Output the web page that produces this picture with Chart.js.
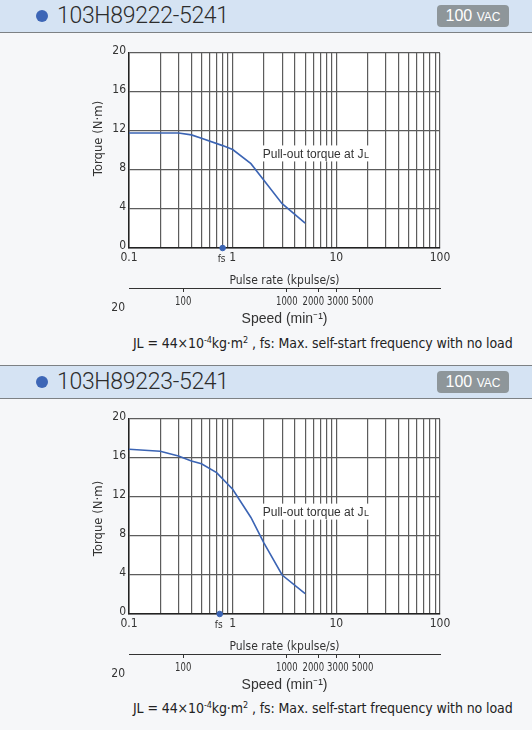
<!DOCTYPE html>
<html>
<head>
<meta charset="utf-8">
<script src="https://cdn.jsdelivr.net/npm/chart.js@4.4.1/dist/chart.umd.min.js"></script>
<style>
  html, body { margin: 0; padding: 0; }
  body {
    width: 532px; height: 730px; position: relative; overflow: hidden;
    background: #f6f7f9; color: #333;
    font-family: 'Liberation Sans', Arial, sans-serif;
  }
  .head { position: absolute; left: 0; width: 532px; height: 32px; background: #d5e3f3; border-bottom: 1px solid #7d8184; }
  .head.second { border-top: 1px solid #7d8184; }
  .dot { position: absolute; left: 36px; top: 10px; width: 12px; height: 12px; border-radius: 50%; background: #3d66b6; }
  .name { position: absolute; left: 57px; top: 2px; font-family: Roboto, 'Liberation Sans', sans-serif; font-weight: 300; font-size: 23px; line-height: 28px; letter-spacing: -0.3px; color: #2c2c2c; }
  .badge { position: absolute; left: 437px; top: 5px; width: 72px; height: 22px; border-radius: 4px; background: #8e969a; color: #fff; text-align: center; line-height: 22px; font-size: 16px; }
  .badge span { font-size: 12px; }
  .plot { position: absolute; left: 0; width: 532px; height: 300px; }
  .note { position: absolute; left: 133px; white-space: nowrap; font-family: 'DejaVu Sans Condensed', sans-serif; font-size: 14px; letter-spacing: -0.1px; color: #222; }
  .note sup { font-size: 9px; vertical-align: 5px; line-height: 0; }
</style>
</head>
<body>

<div class="head" style="top:0"><div class="dot"></div><div class="name">103H89222-5241</div><div class="badge">100 <span>VAC</span></div></div>
<div class="plot" style="top:33px"><canvas id="c1"></canvas></div>
<div class="note" style="top:335px">JL = 44×10<sup>-4</sup>kg·m<sup>2</sup> , fs: Max. self-start frequency with no load</div>

<div class="head second" style="top:365px"><div class="dot"></div><div class="name">103H89223-5241</div><div class="badge">100 <span>VAC</span></div></div>
<div class="plot" style="top:399px"><canvas id="c2"></canvas></div>
<div class="note" style="top:700px">JL = 44×10<sup>-4</sup>kg·m<sup>2</sup> , fs: Max. self-start frequency with no load</div>

<script>
// Pulse rate (kpulse/s) vs. pull-out torque (N·m)
const rate1   = [0.1, 0.3, 0.4, 0.5, 0.8, 1, 1.5, 2, 3, 5];
const torque1 = [11.8, 11.8, 11.6, 11.25, 10.5, 10.1, 8.65, 6.95, 4.55, 2.55];
const fs1 = 0.8;

const rate2   = [0.1, 0.2, 0.3, 0.4, 0.5, 0.7, 1, 1.5, 2, 3, 5];
const torque2 = [16.9, 16.7, 16.2, 15.7, 15.4, 14.5, 12.8, 9.9, 7.3, 4.0, 2.1];
const fs2 = 0.75;

// Axis ticks
const pulseGrid = [0.1, 0.2, 0.3, 0.4, 0.5, 0.6, 0.7, 0.8, 0.9,
                   1, 2, 3, 4, 5, 6, 7, 8, 9,
                   10, 20, 30, 40, 50, 60, 70, 80, 90, 100];
const pulseLabels = [0.1, 1, 10, 100];
const torqueTicks = [0, 4, 8, 12, 16, 20];
const speedTicks = [100, 1000, 2000, 3000, 5000];
const speedStartLabel = '20';

// 1.8° step motor: 200 pulses per revolution -> min⁻¹ = kpulse/s × 300
const RPM_PER_KPPS = 300;

const NARROW = "'DejaVu Sans Condensed', sans-serif";
const REGULAR = "'Liberation Sans', Arial, sans-serif";
const INK = '#333';
const GRID = '#5c5c5c';
const BLUE = '#3b64b4';

// Spread crowded labels apart so neighbours keep a small gap
function spreadLabels(centers, widths, gap) {
  const c = centers.slice();
  for (let it = 0; it < 30; it++) {
    for (let i = 0; i < c.length - 1; i++) {
      const need = (widths[i] + widths[i + 1]) / 2 + gap;
      const d = c[i + 1] - c[i];
      if (d < need) {
        const push = (need - d) / 2;
        c[i] -= push;
        c[i + 1] += push;
      }
    }
  }
  return c;
}

const decor = {
  id: 'decor',
  beforeDraw(chart) {
    const { ctx, chartArea: a } = chart;
    ctx.save();
    ctx.fillStyle = '#fff';
    ctx.fillRect(a.left, a.top, a.right - a.left, a.bottom - a.top);
    ctx.restore();
  },
  afterDraw(chart, args, o) {
    const { ctx, chartArea: a, scales: { x, y, x2 } } = chart;
    ctx.save();
    ctx.fillStyle = INK;

    // curve caption with a white backing over the grid
    const lx = x.getPixelForValue(o.captionAt[0]);
    const ly = y.getPixelForValue(o.captionAt[1]);
    ctx.font = '12px ' + REGULAR;
    const main = 'Pull-out torque at J';
    const w1 = ctx.measureText(main).width;
    ctx.font = '9px ' + REGULAR;
    const w2 = ctx.measureText('L').width;
    ctx.fillStyle = '#fff';
    ctx.fillRect(lx - 3, ly - 8, w1 + w2 + 6, 16);
    ctx.fillStyle = INK;
    ctx.textBaseline = 'alphabetic';
    ctx.textAlign = 'left';
    ctx.font = '12px ' + REGULAR;
    ctx.fillText(main, lx, ly + 4.5);
    ctx.font = '9px ' + REGULAR;
    ctx.fillText('L', lx + w1 + 0.5, ly + 4.5);

    // fs marker caption
    ctx.font = '10px ' + NARROW;
    ctx.textAlign = 'center';
    ctx.fillText('fs', x.getPixelForValue(o.fs) - 1, a.bottom + 14);

    // speed scale labels, narrowed and kept apart under their ticks
    const squeeze = 0.82;
    ctx.font = '11.5px ' + NARROW;
    const texts = speedTicks.map(String);
    const widths = texts.map(t => ctx.measureText(t).width * squeeze);
    const centers = spreadLabels(speedTicks.map(v => x2.getPixelForValue(v)), widths, 3);
    texts.forEach((t, i) => {
      ctx.save();
      ctx.translate(centers[i], x2.top + 16.5);
      ctx.scale(squeeze, 1);
      ctx.fillText(t, 0, 0);
      ctx.restore();
    });

    // left-hand label of the speed scale
    ctx.font = '12px ' + NARROW;
    ctx.textAlign = 'right';
    ctx.fillText(speedStartLabel, a.left - 4, x2.top + 23);

    // torque axis title
    ctx.translate(a.left - 30, (a.top + a.bottom) / 2 + o.titleShift);
    ctx.rotate(-Math.PI / 2);
    ctx.textAlign = 'center';
    ctx.textBaseline = 'middle';
    ctx.font = '13px ' + NARROW;
    ctx.fillText('Torque (N·m)', 0, 0);
    ctx.restore();
  }
};

function build(id, rate, torque, fs, captionAt, titleShift) {
  return new Chart(document.getElementById(id), {
    data: {
      datasets: [
        {
          type: 'line',
          label: 'Pull-out torque',
          data: rate.map((r, i) => ({ x: r, y: torque[i] })),
          borderColor: BLUE,
          borderWidth: 1.6,
          pointRadius: 0,
          tension: 0,
          fill: false
        },
        {
          type: 'scatter',
          label: 'fs',
          data: [{ x: fs, y: 0 }],
          backgroundColor: BLUE,
          borderColor: BLUE,
          pointRadius: 2.8,
          clip: false
        }
      ]
    },
    options: {
      responsive: true,
      maintainAspectRatio: false,
      animation: false,
      events: [],
      layout: { padding: { left: 88, right: 92, top: 20, bottom: 5 } },
      plugins: {
        legend: { display: false },
        tooltip: { enabled: false },
        decor: { fs, captionAt, titleShift }
      },
      scales: {
        x: {
          type: 'logarithmic',
          position: 'bottom',
          weight: 0,
          min: 0.1, max: 100,
          afterBuildTicks: s => { s.ticks = pulseGrid.map(v => ({ value: v })); },
          afterFit: s => { s.height = 40; },
          ticks: {
            autoSkip: false, maxRotation: 0, padding: 3, color: INK,
            font: { family: NARROW, size: 12 },
            callback: v => pulseLabels.includes(v) ? String(v) : ''
          },
          grid: { color: GRID, lineWidth: 1.2, drawTicks: false },
          border: { display: true, color: '#222', width: 1.5 },
          title: {
            display: true, text: 'Pulse rate (kpulse/s)', color: INK,
            font: { family: NARROW, size: 12 }, padding: { top: 2, bottom: 0 }
          }
        },
        x2: {
          type: 'logarithmic',
          position: 'bottom',
          weight: 1,
          min: 0.1 * RPM_PER_KPPS, max: 100 * RPM_PER_KPPS,
          afterBuildTicks: s => { s.ticks = speedTicks.map(v => ({ value: v })); },
          afterFit: s => { s.height = 40; },
          ticks: { display: false, autoSkip: false },
          grid: { display: true, drawOnChartArea: false, drawTicks: true, tickLength: 4, color: INK, lineWidth: 1 },
          border: { display: true, color: INK, width: 1 },
          title: {
            display: true, text: 'Speed (min⁻¹)', color: INK,
            font: { family: REGULAR, size: 14 }, padding: { top: 2, bottom: 0 }
          }
        },
        y: {
          type: 'linear',
          min: 0, max: 20,
          afterBuildTicks: s => { s.ticks = torqueTicks.map(v => ({ value: v })); },
          afterFit: s => { s.width = 41; },
          ticks: {
            padding: 3, color: INK, labelOffset: -2,
            font: { family: NARROW, size: 12 }
          },
          grid: { color: GRID, lineWidth: 1.2, drawTicks: false },
          border: { display: true, color: '#222', width: 1.5 }
        }
      }
    },
    plugins: [decor]
  });
}

build('c1', rate1, torque1, fs1, [1.95, 9.7], -12);
build('c2', rate2, torque2, fs2, [1.95, 10.5], 2);
</script>
</body>
</html>
